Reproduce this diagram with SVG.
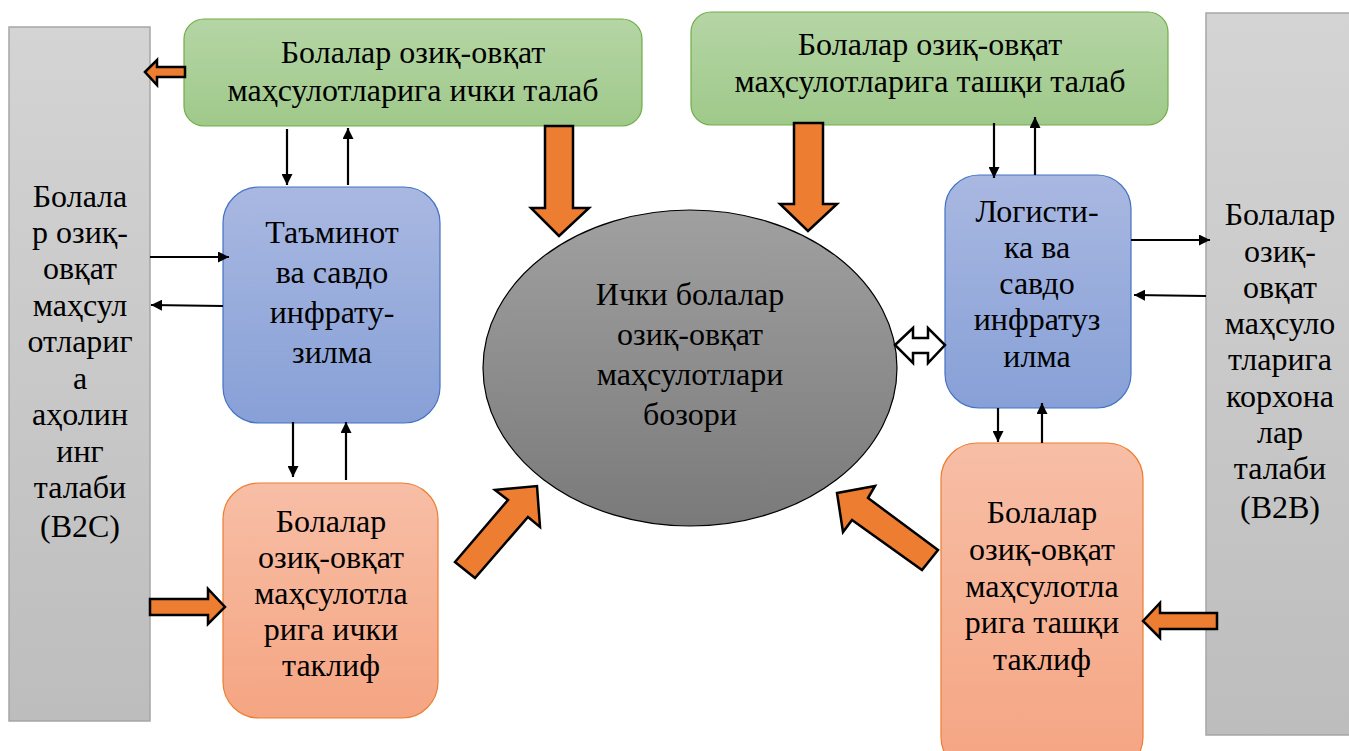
<svg xmlns="http://www.w3.org/2000/svg" width="1349" height="751" viewBox="0 0 1349 751" font-family="'Liberation Serif', 'Times New Roman', 'DejaVu Serif', serif" font-size="32" text-anchor="middle">
<defs>
<linearGradient id="gGray" x1="0" y1="0" x2="0" y2="1"><stop offset="0" stop-color="#d4d4d4"/><stop offset="1" stop-color="#bdbdbd"/></linearGradient>
<linearGradient id="gGreen" x1="0" y1="0" x2="0" y2="1"><stop offset="0" stop-color="#b5d5a5"/><stop offset="1" stop-color="#9fc98a"/></linearGradient>
<linearGradient id="gBlue" x1="0" y1="0" x2="0" y2="1"><stop offset="0" stop-color="#a9b8e1"/><stop offset="1" stop-color="#87a0d7"/></linearGradient>
<linearGradient id="gOrange" x1="0" y1="0" x2="0" y2="1"><stop offset="0" stop-color="#f7bea6"/><stop offset="1" stop-color="#f5a582"/></linearGradient>
<linearGradient id="gEll" x1="0" y1="0" x2="0" y2="1"><stop offset="0" stop-color="#a0a0a0"/><stop offset="1" stop-color="#7a7a7a"/></linearGradient>
<marker id="ah" viewBox="0 0 10 10" refX="10" refY="5" markerWidth="5" markerHeight="5" orient="auto" markerUnits="strokeWidth">
<path d="M0,0 L10,5 L0,10 z" fill="#000"/>
</marker>
</defs>

<g id="b2c">
<rect fill="url(#gGray)" stroke="#a6a6a6" stroke-width="1.5" x="9" y="27" width="141" height="694"/>
<text><tspan x="80" y="207">Болала</tspan><tspan x="80" y="243">р озиқ-</tspan><tspan x="80" y="279">овқат</tspan><tspan x="80" y="316">маҳсул</tspan><tspan x="80" y="352">отлариг</tspan><tspan x="80" y="389">а</tspan><tspan x="80" y="425">аҳолин</tspan><tspan x="80" y="462">инг</tspan><tspan x="80" y="498">талаби</tspan><tspan x="80" y="537">(B2C)</tspan></text>
</g>

<g id="b2b">
<rect fill="url(#gGray)" stroke="#a6a6a6" stroke-width="1.5" x="1206" y="13" width="150" height="722"/>
<text><tspan x="1280" y="225">Болалар</tspan><tspan x="1280" y="262">озиқ-</tspan><tspan x="1280" y="298">овқат</tspan><tspan x="1280" y="334">маҳсуло</tspan><tspan x="1280" y="370">тларига</tspan><tspan x="1280" y="407">корхона</tspan><tspan x="1280" y="443">лар</tspan><tspan x="1280" y="479">талаби</tspan><tspan x="1280" y="518">(B2B)</tspan></text>
</g>

<g id="internal-demand">
<rect fill="url(#gGreen)" stroke="#70ad47" stroke-width="1.2" x="184" y="19" width="458" height="107" rx="20"/>
<text><tspan x="413" y="63">Болалар озиқ-овқат</tspan><tspan x="413" y="101">маҳсулотларига ички талаб</tspan></text>
</g>

<g id="external-demand">
<rect fill="url(#gGreen)" stroke="#70ad47" stroke-width="1.2" x="691" y="12" width="477" height="113" rx="20"/>
<text><tspan x="930" y="55">Болалар озиқ-овқат</tspan><tspan x="930" y="92">маҳсулотларига ташқи талаб</tspan></text>
</g>

<g id="supply-infra">
<rect fill="url(#gBlue)" stroke="#4472c4" stroke-width="1.2" x="223" y="187" width="217" height="236" rx="36"/>
<text><tspan x="332" y="243">Таъминот</tspan><tspan x="332" y="283">ва савдо</tspan><tspan x="332" y="323">инфрату-</tspan><tspan x="332" y="363">зилма</tspan></text>
</g>

<g id="logistics-infra">
<rect fill="url(#gBlue)" stroke="#4472c4" stroke-width="1.2" x="945" y="175" width="186" height="233" rx="34"/>
<text><tspan x="1037" y="222">Логисти-</tspan><tspan x="1037" y="258">ка ва</tspan><tspan x="1037" y="294">савдо</tspan><tspan x="1037" y="330">инфратуз</tspan><tspan x="1037" y="367">илма</tspan></text>
</g>

<g id="internal-supply">
<rect fill="url(#gOrange)" stroke="#ed7d31" stroke-width="1.2" x="223" y="483" width="215" height="235" rx="36"/>
<text><tspan x="331" y="532">Болалар</tspan><tspan x="331" y="568">озиқ-овқат</tspan><tspan x="331" y="604">маҳсулотла</tspan><tspan x="331" y="640">рига ички</tspan><tspan x="331" y="676">таклиф</tspan></text>
</g>

<g id="external-supply">
<rect fill="url(#gOrange)" stroke="#ed7d31" stroke-width="1.2" x="941" y="443" width="202" height="330" rx="36"/>
<text><tspan x="1042" y="523">Болалар</tspan><tspan x="1042" y="560">озиқ-овқат</tspan><tspan x="1042" y="597">маҳсулотла</tspan><tspan x="1042" y="633">рига ташқи</tspan><tspan x="1042" y="670">таклиф</tspan></text>
</g>

<g id="market">
<ellipse cx="690" cy="368" rx="207" ry="158" fill="url(#gEll)" stroke="#000" stroke-width="1.2"/>
<text><tspan x="690" y="305">Ички болалар</tspan><tspan x="690" y="345">озиқ-овқат</tspan><tspan x="690" y="385">маҳсулотлари</tspan><tspan x="690" y="425">бозори</tspan></text>
</g>

<g id="connectors">
<g stroke="#000" stroke-width="2.2" fill="none" marker-end="url(#ah)">
<line x1="287" y1="129" x2="287" y2="185"/>
<line x1="348" y1="185" x2="348" y2="128"/>
<line x1="150" y1="257" x2="229" y2="257"/>
<line x1="223" y1="306" x2="151" y2="305"/>
<line x1="293" y1="422" x2="293" y2="477"/>
<line x1="346" y1="480" x2="346" y2="422"/>
<line x1="994" y1="123" x2="994" y2="178"/>
<line x1="1035" y1="175" x2="1035" y2="117"/>
<line x1="1131" y1="240" x2="1210" y2="240"/>
<line x1="1206" y1="296" x2="1134" y2="295"/>
<line x1="998" y1="408" x2="998" y2="442"/>
<line x1="1042" y1="443" x2="1042" y2="403"/>
</g>
<g fill="#ed7d31" stroke="#000" stroke-width="2.5">
<polygon points="145,72 157,60 157,67 185,67 185,77 157,77 157,85"/>
<polygon points="545,126 573,126 573,208 589,208 559,236 531,208 545,208"/>
<polygon points="794,123 823,123 823,204 837,204 808,231 780,204 794,204"/>
<polygon points="150,599 208,599 208,589 225,607 208,624 208,615 150,615"/>
<polygon points="1143,621 1160,603 1160,613 1217,613 1217,629 1160,629 1160,638"/>
<polygon points="537,486 540,527 528,517 475,578 455,562 508,500 495,490"/>
<polygon points="837,493 875,486 868,498 938,550 922,570 852,520 843,532"/>
</g>
<polygon fill="#fff" stroke="#000" stroke-width="2.5" points="895,345 913,328 913,338 928,338 928,328 945,345 928,363 928,353 913,353 913,363"/>
</g>
</svg>
